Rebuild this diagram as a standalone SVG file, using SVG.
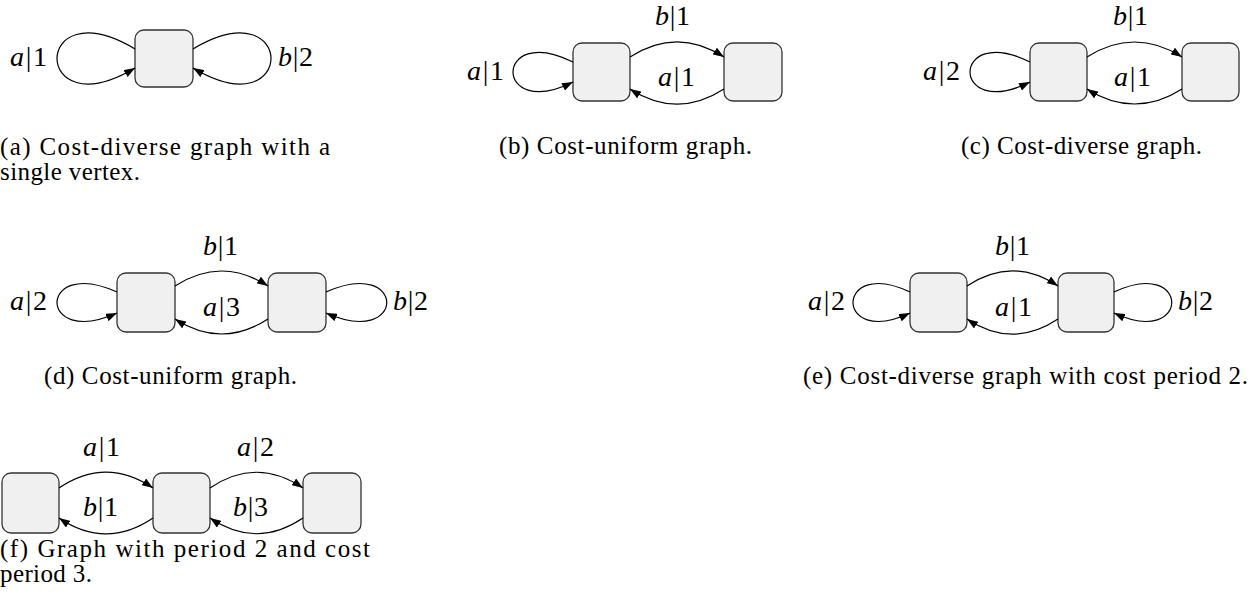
<svg xmlns="http://www.w3.org/2000/svg" width="1260" height="609" viewBox="0 0 1260 609">
<style>
.node{fill:#f0f0f0;stroke:#333;stroke-width:1.3}
.edge{fill:none;stroke:#000;stroke-width:1.2;marker-end:url(#arr)}
.lbl{font-family:"Liberation Serif","DejaVu Serif",serif;font-size:28px;fill:#000}
.cap{font-family:"Liberation Serif","DejaVu Serif",serif;font-size:25px;fill:#000}
.i{font-style:italic}
</style>
<defs>
<marker id="arr" markerWidth="11" markerHeight="8" refX="11" refY="4" orient="auto" markerUnits="userSpaceOnUse"><path d="M0,0 L11,4 L0,8 z" fill="#000"/></marker>
</defs>
<rect width="1260" height="609" fill="#fff"/>
<g id="nodes">
<rect id="a1" class="node" x="135" y="30" width="58" height="57" rx="9"/>
<rect id="b1" class="node" x="573" y="43" width="57" height="58" rx="9"/>
<rect id="b2" class="node" x="724" y="43" width="58" height="58" rx="9"/>
<rect id="c1" class="node" x="1030" y="43" width="57" height="58" rx="9"/>
<rect id="c2" class="node" x="1182" y="43" width="57" height="58" rx="9"/>
<rect id="d1" class="node" x="117" y="273" width="58" height="59" rx="9"/>
<rect id="d2" class="node" x="268" y="273" width="58" height="59" rx="9"/>
<rect id="e1" class="node" x="910" y="273" width="57" height="59" rx="9"/>
<rect id="e2" class="node" x="1058" y="273" width="56" height="59" rx="9"/>
<rect id="f1" class="node" x="2" y="473" width="57" height="60" rx="9"/>
<rect id="f2" class="node" x="153" y="473" width="57" height="60" rx="9"/>
<rect id="f3" class="node" x="303" y="473" width="58" height="60" rx="9"/>
</g>
<g id="connectors">
<path class="edge" d="M135,49 C31,-13 31,130 135,68"/>
<path class="edge" d="M193,49 C297,-13 297,130 193,68"/>
<path class="edge" d="M573,62 C493,22 493,122 573,82"/>
<path class="edge" d="M630,57 C661,37 693,37 724,57"/>
<path class="edge" d="M724,89 C693,109 661,109 630,89"/>
<path class="edge" d="M1030,62 C950,22 950,122 1030,82"/>
<path class="edge" d="M1087,57 C1118,37 1151,37 1182,57"/>
<path class="edge" d="M1182,89 C1151,109 1118,109 1087,89"/>
<path class="edge" d="M117,292 C37,256 37,349 117,313"/>
<path class="edge" d="M326,292 C407,256 407,349 326,313"/>
<path class="edge" d="M175,286 C206,266 237,266 268,286"/>
<path class="edge" d="M268,319 C237,339 206,339 175,319"/>
<path class="edge" d="M910,292 C834,256 834,349 910,313"/>
<path class="edge" d="M1114,292 C1191,256 1191,349 1114,313"/>
<path class="edge" d="M967,286 C997,266 1028,266 1058,286"/>
<path class="edge" d="M1058,319 C1028,339 997,339 967,319"/>
<path class="edge" d="M59,488 C90,467 122,467 153,488"/>
<path class="edge" d="M210,488 C241,467 272,467 303,488"/>
<path class="edge" d="M153,518 C122,539 90,539 59,518"/>
<path class="edge" d="M303,518 C272,539 241,539 210,518"/>
</g>
<g id="labels">
<text class="lbl" x="10" y="66" textLength="37"><tspan class="i">a</tspan>|1</text>
<text class="lbl" x="278" y="66" textLength="35"><tspan class="i">b</tspan>|2</text>
<text class="lbl" x="467" y="80" textLength="37"><tspan class="i">a</tspan>|1</text>
<text class="lbl" x="655" y="25" textLength="35"><tspan class="i">b</tspan>|1</text>
<text class="lbl" x="658" y="86" textLength="37"><tspan class="i">a</tspan>|1</text>
<text class="lbl" x="923" y="80" textLength="37"><tspan class="i">a</tspan>|2</text>
<text class="lbl" x="1113" y="25" textLength="35"><tspan class="i">b</tspan>|1</text>
<text class="lbl" x="1114" y="86" textLength="37"><tspan class="i">a</tspan>|1</text>
<text class="lbl" x="10" y="310" textLength="37"><tspan class="i">a</tspan>|2</text>
<text class="lbl" x="203" y="255" textLength="35"><tspan class="i">b</tspan>|1</text>
<text class="lbl" x="203" y="316" textLength="37"><tspan class="i">a</tspan>|3</text>
<text class="lbl" x="393" y="310" textLength="35"><tspan class="i">b</tspan>|2</text>
<text class="lbl" x="808" y="310" textLength="37"><tspan class="i">a</tspan>|2</text>
<text class="lbl" x="995" y="255" textLength="35"><tspan class="i">b</tspan>|1</text>
<text class="lbl" x="995" y="316" textLength="37"><tspan class="i">a</tspan>|1</text>
<text class="lbl" x="1178" y="310" textLength="35"><tspan class="i">b</tspan>|2</text>
<text class="lbl" x="83" y="456" textLength="37"><tspan class="i">a</tspan>|1</text>
<text class="lbl" x="237" y="456" textLength="37"><tspan class="i">a</tspan>|2</text>
<text class="lbl" x="83" y="516" textLength="35"><tspan class="i">b</tspan>|1</text>
<text class="lbl" x="233" y="516" textLength="35"><tspan class="i">b</tspan>|3</text>
</g>
<g id="captions">
<text class="cap" x="0" y="155" textLength="330">(a) Cost-diverse graph with a</text>
<text class="cap" x="0" y="180" textLength="140">single vertex.</text>
<text class="cap" x="499" y="154" textLength="253">(b) Cost-uniform graph.</text>
<text class="cap" x="961" y="154" textLength="241">(c) Cost-diverse graph.</text>
<text class="cap" x="44" y="384" textLength="253">(d) Cost-uniform graph.</text>
<text class="cap" x="803" y="384" textLength="445">(e) Cost-diverse graph with cost period 2.</text>
<text class="cap" x="0" y="557" textLength="370">(f) Graph with period 2 and cost</text>
<text class="cap" x="0" y="582" textLength="92">period 3.</text>
</g>
</svg>
